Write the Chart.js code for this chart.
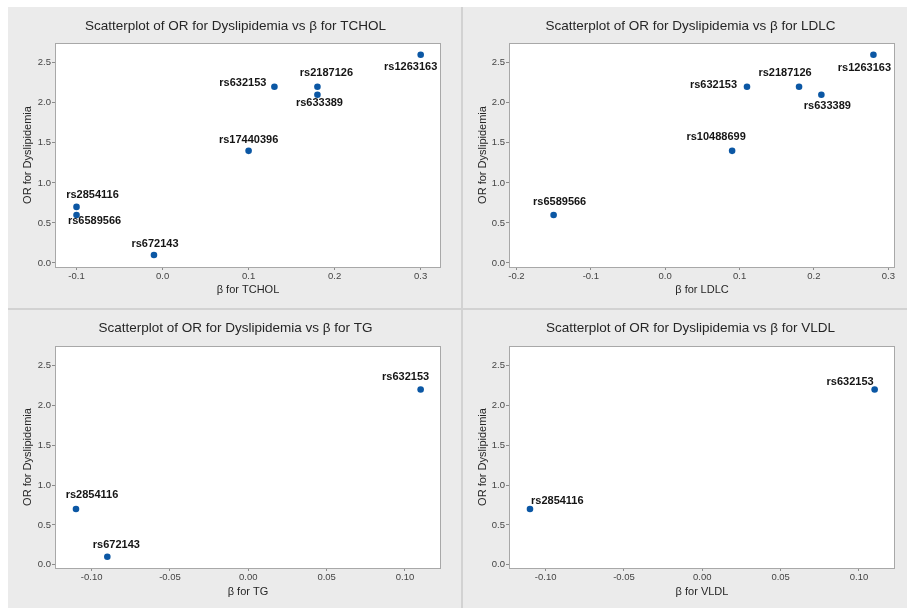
<!DOCTYPE html>
<html>
<head>
<meta charset="utf-8">
<script src="https://cdn.jsdelivr.net/npm/chart.js@4.4.1/dist/chart.umd.min.js"></script>
<style>
  html, body { margin: 0; padding: 0; background: #fff; }
  #grid { position: absolute; left: 8px; top: 7px; width: 899px; height: 601px; background: #d2d2d2; }
  .panel { position: absolute; background: #ebebeb; }
  .panel canvas { display: block; }
</style>
</head>
<body>
<div id="grid">
  <div class="panel" style="left:0; top:0; width:453px; height:301px"><canvas id="c1" width="453" height="301"></canvas></div>
  <div class="panel" style="left:455px; top:0; width:444px; height:301px"><canvas id="c2" width="444" height="301"></canvas></div>
  <div class="panel" style="left:0; top:303px; width:453px; height:298px"><canvas id="c3" width="453" height="298"></canvas></div>
  <div class="panel" style="left:455px; top:303px; width:444px; height:298px"><canvas id="c4" width="444" height="298"></canvas></div>
</div>
<script>
const tcholSnps = ['rs632153', 'rs2187126', 'rs633389', 'rs1263163', 'rs17440396', 'rs2854116', 'rs6589566', 'rs672143'];
const tcholBeta = [0.13, 0.18, 0.18, 0.30, 0.10, -0.10, -0.10, -0.01];
const tcholOR = [2.2, 2.2, 2.1, 2.6, 1.4, 0.7, 0.6, 0.1];

const ldlcSnps = ['rs6589566', 'rs10488699', 'rs632153', 'rs2187126', 'rs633389', 'rs1263163'];
const ldlcBeta = [-0.15, 0.09, 0.11, 0.18, 0.21, 0.28];
const ldlcOR = [0.6, 1.4, 2.2, 2.2, 2.1, 2.6];

const tgSnps = ['rs2854116', 'rs672143', 'rs632153'];
const tgBeta = [-0.11, -0.09, 0.11];
const tgOR = [0.7, 0.1, 2.2];

const vldlSnps = ['rs2854116', 'rs632153'];
const vldlBeta = [-0.11, 0.11];
const vldlOR = [0.7, 2.2];

// Tick values
const orTicks = [0, 0.5, 1.0, 1.5, 2.0, 2.5];
const tcholTicks = [-0.1, 0.0, 0.1, 0.2, 0.3];
const ldlcTicks = [-0.2, -0.1, 0.0, 0.1, 0.2, 0.3];
const tgTicks = [-0.10, -0.05, 0.00, 0.05, 0.10];

const BLUE = '#0b57a4';
const FONT = '"Liberation Sans", Arial, sans-serif';

// Titles, point labels and the plot box
const decorPlugin = {
    id: 'decor',
    beforeDraw(chart) {
        const { ctx, chartArea: a } = chart;
        ctx.save();
        ctx.fillStyle = '#fff';
        ctx.fillRect(a.left, a.top, a.right - a.left, a.bottom - a.top);
        ctx.restore();
    },
    afterDatasetsDraw(chart, args, opts) {
        const { ctx } = chart;
        const pts = chart.getDatasetMeta(0).data;
        ctx.save();
        ctx.font = 'bold 11px ' + FONT;
        ctx.fillStyle = '#151515';
        ctx.textBaseline = 'middle';
        opts.names.forEach((name, i) => {
            const [dx, dy, al] = opts.offsets[i];
            ctx.textAlign = al === 'r' ? 'right' : al === 'l' ? 'left' : 'center';
            ctx.fillText(name, pts[i].x + dx, pts[i].y + dy);
        });
        ctx.restore();
    },
    afterDraw(chart, args, opts) {
        const { ctx, chartArea: a } = chart;
        ctx.save();
        ctx.strokeStyle = '#a8a8a8';
        ctx.lineWidth = 1;
        ctx.strokeRect(Math.round(a.left) + 0.5, Math.round(a.top) + 0.5,
            Math.round(a.right - a.left) - 1, Math.round(a.bottom - a.top));
        ctx.font = '13.5px ' + FONT;
        ctx.fillStyle = '#262626';
        ctx.textAlign = 'center';
        ctx.textBaseline = 'middle';
        ctx.fillText(opts.title, 227.5, opts.titleY);
        ctx.restore();
    }
};

function makePanel(id, p) {
    new Chart(document.getElementById(id), {
        type: 'scatter',
        data: {
            datasets: [{
                data: p.beta.map((b, i) => ({ x: b, y: p.or[i] })),
                pointRadius: 3.3,
                pointHoverRadius: 3.3,
                pointBackgroundColor: BLUE,
                pointBorderWidth: 0
            }]
        },
        options: {
            responsive: false,
            animation: false,
            events: [],
            layout: { padding: { top: p.top, right: p.right, left: 0, bottom: 0 } },
            plugins: {
                legend: { display: false },
                tooltip: { enabled: false },
                decor: { title: p.title, titleY: p.titleY, names: p.names, offsets: p.offsets }
            },
            scales: {
                x: {
                    type: 'linear',
                    min: p.xMin,
                    max: p.xMax,
                    afterBuildTicks: s => { s.ticks = p.xTicks.map(v => ({ value: v })); },
                    afterFit: s => { s.height = p.xH; },
                    ticks: {
                        padding: 1,
                        color: '#444',
                        font: { family: FONT, size: 9.5 },
                        maxRotation: 0,
                        callback: v => (Math.abs(v) < 1e-9 ? 0 : v).toFixed(p.xDec)
                    },
                    grid: { drawOnChartArea: false, tickLength: 3, color: '#8c8c8c' },
                    border: { display: false },
                    title: {
                        display: true,
                        text: p.xTitle,
                        color: '#262626',
                        font: { family: FONT, size: 11 },
                        padding: { top: 0, bottom: p.xTitlePad }
                    }
                },
                y: {
                    type: 'linear',
                    min: p.yMin,
                    max: p.yMax,
                    afterBuildTicks: s => { s.ticks = orTicks.map(v => ({ value: v })); },
                    afterFit: s => { s.width = p.yW; },
                    ticks: {
                        padding: 1,
                        color: '#444',
                        font: { family: FONT, size: 9.5 },
                        callback: v => v.toFixed(1)
                    },
                    grid: { drawOnChartArea: false, tickLength: 3, color: '#8c8c8c' },
                    border: { display: false },
                    title: {
                        display: true,
                        text: 'OR for Dyslipidemia',
                        color: '#262626',
                        font: { family: FONT, size: 11 },
                        padding: { top: 13.4, bottom: 0 }
                    }
                }
            }
        },
        plugins: [decorPlugin]
    });
}

makePanel('c1', {
    title: 'Scatterplot of OR for Dyslipidemia vs β for TCHOL', titleY: 19,
    xTitle: 'β for TCHOL', names: tcholSnps, beta: tcholBeta, or: tcholOR,
    xTicks: tcholTicks, xDec: 1, xMin: -0.125, xMax: 0.3236, yMin: -0.05, yMax: 2.746,
    top: 36, right: 20, yW: 47, xH: 41, xTitlePad: 11.4,
    offsets: [[-8, -4, 'r'], [9, -14, 'c'], [2, 8, 'c'], [-10, 12, 'c'], [0, -11, 'c'], [16, -12, 'c'], [18, 6, 'c'], [1, -11, 'c']]
});

makePanel('c2', {
    title: 'Scatterplot of OR for Dyslipidemia vs β for LDLC', titleY: 19,
    xTitle: 'β for LDLC', names: ldlcSnps, beta: ldlcBeta, or: ldlcOR,
    xTicks: ldlcTicks, xDec: 1, xMin: -0.21, xMax: 0.309, yMin: -0.05, yMax: 2.746,
    top: 36, right: 12, yW: 46, xH: 41, xTitlePad: 11.4,
    offsets: [[6, -13, 'c'], [-16, -14, 'c'], [-10, -2, 'r'], [-14, -14, 'c'], [6, 11, 'c'], [-9, 13, 'c']]
});

makePanel('c3', {
    title: 'Scatterplot of OR for Dyslipidemia vs β for TG', titleY: 18.3,
    xTitle: 'β for TG', names: tgSnps, beta: tgBeta, or: tgOR,
    xTicks: tgTicks, xDec: 2, xMin: -0.1234, xMax: 0.123, yMin: -0.041, yMax: 2.745,
    top: 36, right: 20, yW: 47, xH: 40, xTitlePad: 9,
    offsets: [[16, -14, 'c'], [9, -12, 'c'], [-15, -12, 'c']]
});

makePanel('c4', {
    title: 'Scatterplot of OR for Dyslipidemia vs β for VLDL', titleY: 18.3,
    xTitle: 'β for VLDL', names: vldlSnps, beta: vldlBeta, or: vldlOR,
    xTicks: tgTicks, xDec: 2, xMin: -0.1234, xMax: 0.123, yMin: -0.041, yMax: 2.745,
    top: 36, right: 12, yW: 46, xH: 40, xTitlePad: 9,
    offsets: [[1, -8, 'l'], [-1, -7, 'r']]
});
</script>
</body>
</html>
